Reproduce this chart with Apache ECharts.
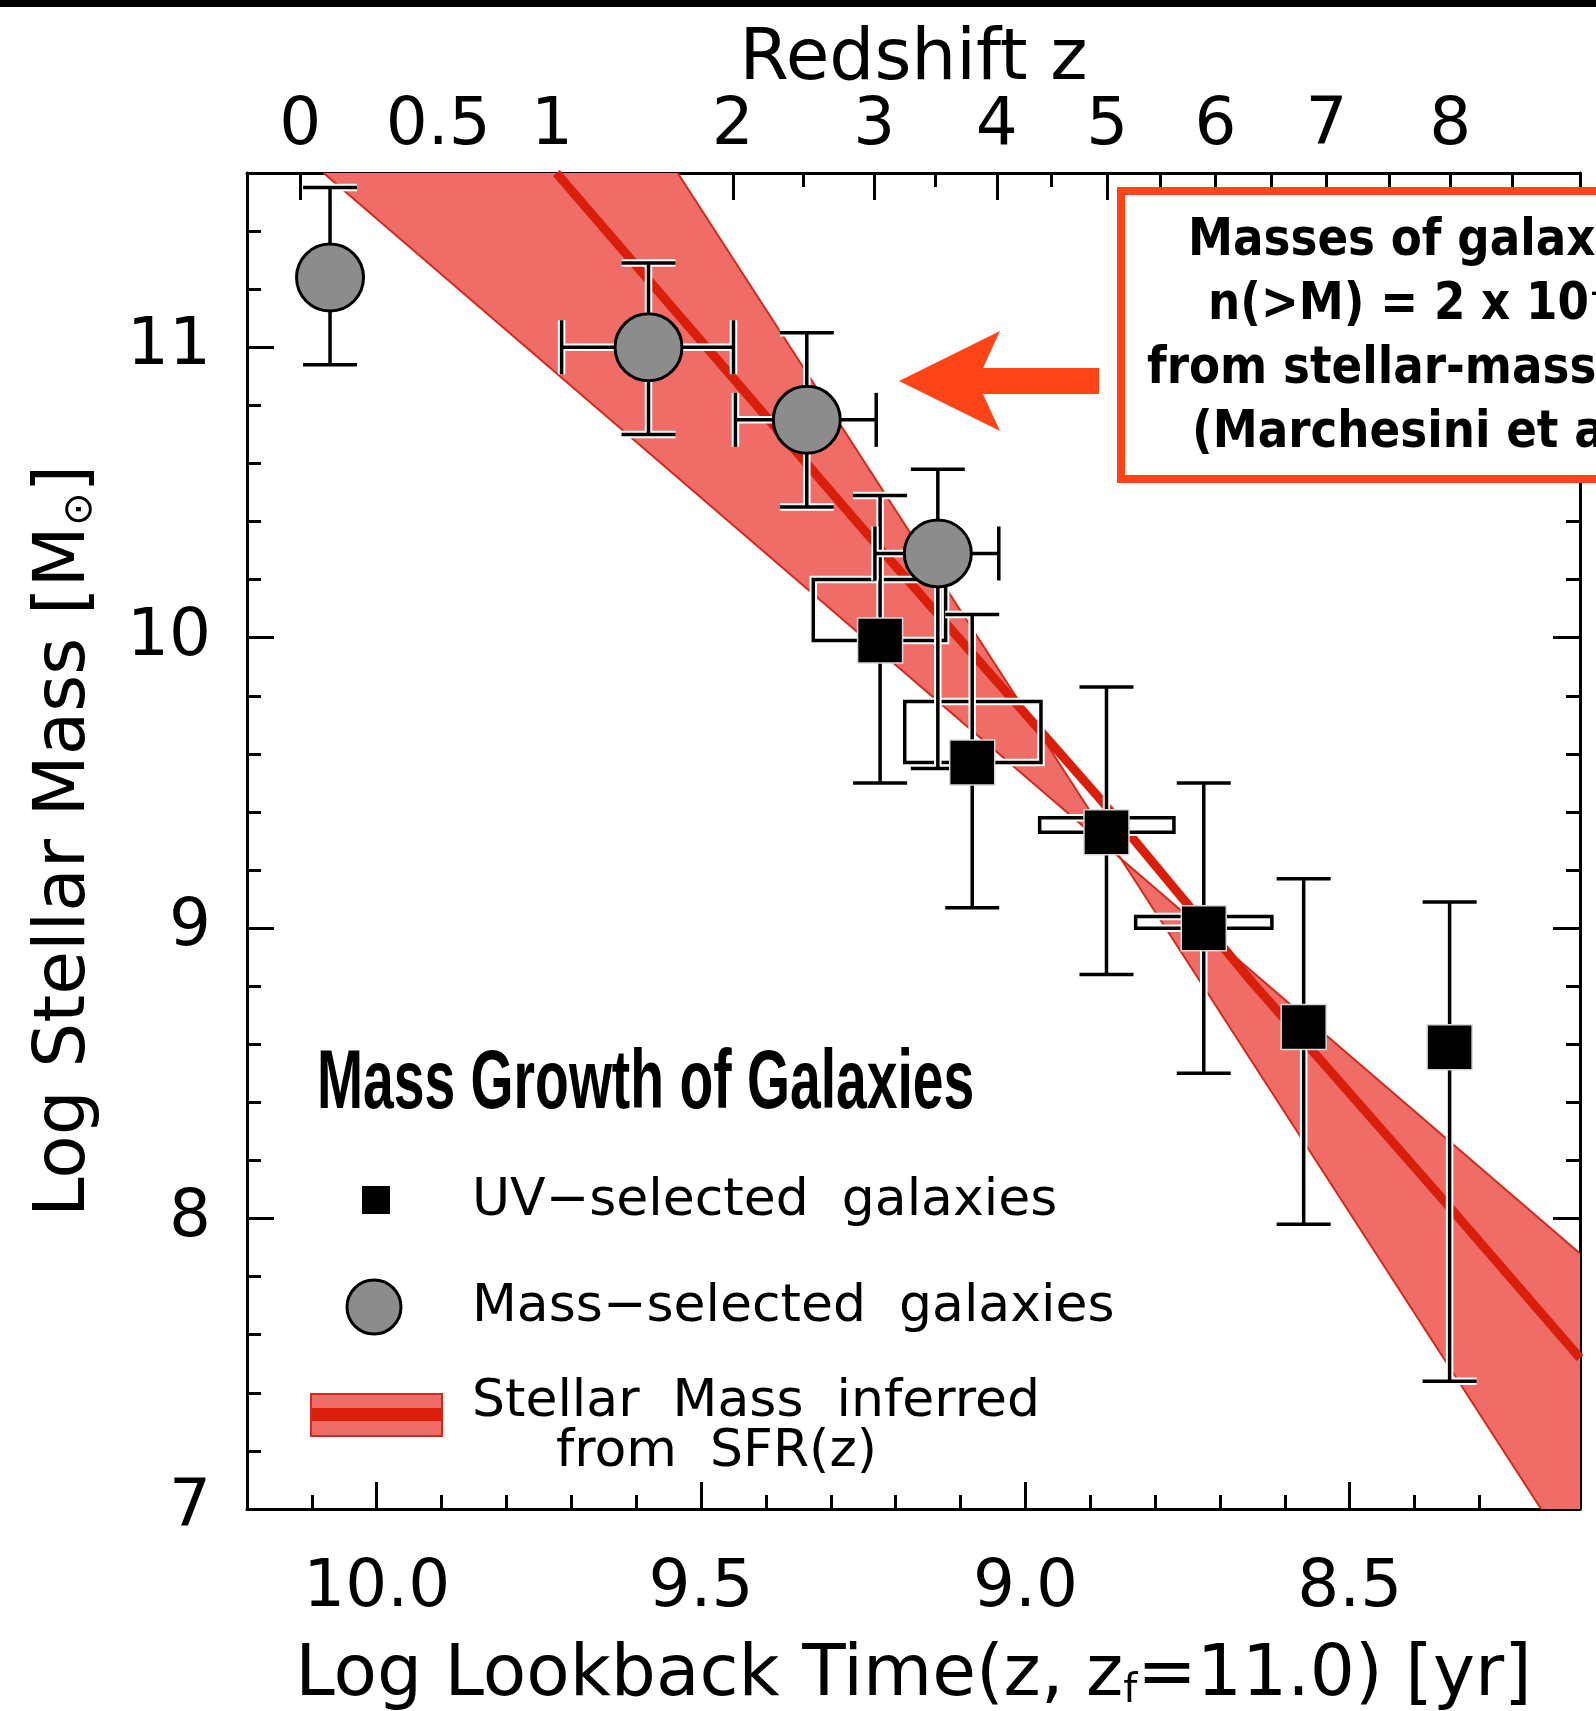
<!DOCTYPE html>
<html>
<head>
<meta charset="utf-8">
<title>Mass Growth of Galaxies</title>
<script src="https://cdn.jsdelivr.net/npm/echarts@6/dist/echarts.min.js"></script>
<style>
  html, body { margin: 0; padding: 0; background: #ffffff; }
  #chart { width: 1596px; height: 1711px; }
</style>
</head>
<body>
<div id="chart"></div>
<script>
// ---------------- axis ticks ----------------
const lookbackTicks = [10.0, 9.5, 9.0, 8.5];
const lookbackMinorTicks = [10.1, 9.9, 9.8, 9.7, 9.6, 9.4, 9.3, 9.2, 9.1, 8.9, 8.8, 8.7, 8.6, 8.4, 8.3, 8.2];
const massTicks = [7, 8, 9, 10, 11];
const massMinorTicks = [7.2, 7.4, 7.6, 7.8, 8.2, 8.4, 8.6, 8.8, 9.2, 9.4, 9.6, 9.8, 10.2, 10.4, 10.6, 10.8, 11.2, 11.4];
// redshift scale on the top axis, placed at the matching log lookback time
const redshiftLabels = ['0', '0.5', '1', '2', '3', '4', '5', '6', '7', '8'];
const redshiftTickLogT = [10.118, 9.905, 9.730, 9.451, 9.233, 9.044, 8.874, 8.707, 8.536, 8.345];
const redshiftMinorLogT = [10.013, 9.818, 9.591, 9.343, 9.139, 8.960, 8.792, 8.621, 8.439, 8.250];

// ---------------- mass-selected galaxies (circles) ----------------
const massSelLogT   = [10.072, 9.581, 9.337, 9.135];
const massSelMass   = [11.24, 11.00, 10.75, 10.29];
const massSelLow    = [10.94, 10.70, 10.45, 9.55];
const massSelHigh   = [11.55, 11.29, 11.05, 10.58];
const massSelTLeft  = [null, 9.715, 9.447, 9.232];
const massSelTRight = [null, 9.450, 9.230, 9.041];

// ---------------- UV-selected galaxies (squares) ----------------
const uvLogT  = [9.224, 9.082, 8.875, 8.725, 8.571, 8.346];
const uvMass  = [9.99, 9.57, 9.33, 9.00, 8.66, 8.59];
const uvLow   = [9.50, 9.07, 8.84, 8.50, 7.98, 7.44];
const uvHigh  = [10.49, 10.08, 9.83, 9.50, 9.17, 9.09];
// systematic-range boxes around the first four UV points
const uvBoxTLeft  = [9.327, 9.186, 8.978, 8.830];
const uvBoxTRight = [9.123, 8.976, 8.771, 8.620];
const uvBoxBottom = [9.99, 9.57, 9.33, 9.00];
const uvBoxTop    = [10.20, 9.78, 9.38, 9.04];

// ---------------- stellar mass inferred from SFR(z) ----------------
const edgeShallowLogT = [10.082, 8.145];
const edgeShallowMass = [11.60, 7.88];
const edgeSteepLogT   = [9.536, 8.205];
const edgeSteepMass   = [11.60, 7.00];
const bestLogT = [9.723, 9.241, 8.881, 8.655, 8.358, 8.145];
const bestMass = [11.60, 10.35, 9.435, 8.826, 8.07, 7.52];

// ---------------- styling ----------------
const X_MIN = 8.145, X_MAX = 10.2, Y_MIN = 7, Y_MAX = 11.6;
const FONT = 'DejaVu Sans';
const INK = '#000000';
const BAND_FILL = '#f06c66';
const BAND_EDGE = '#d22a1e';
const BAND_BEST = '#d91f0b';
const NOTE_RED = '#ff4517';
const CAP = 27;

const frameLine = { show: true, onZero: false, lineStyle: { color: INK, width: 3 } };
const majorTick = (vals) => ({ show: true, inside: true, length: 27, customValues: vals, lineStyle: { color: INK, width: 3 } });
const minorTick = (vals) => ({ show: true, inside: true, length: 14, customValues: vals, lineStyle: { color: INK, width: 3 } });
const labelStyle = { fontFamily: FONT, fontSize: 66, color: INK };
const nameStyle = {
  fontFamily: FONT, fontSize: 71, color: INK,
  rich: { sub: { fontFamily: FONT, fontSize: 40, color: INK, verticalAlign: 'bottom', lineHeight: 40 } }
};

function nearestIndex(arr, v) {
  let best = 0;
  arr.forEach((a, i) => { if (Math.abs(a - v) < Math.abs(arr[best] - v)) best = i; });
  return best;
}

function xAxisBase(position) {
  return { type: 'value', position, min: X_MIN, max: X_MAX, inverse: true, splitLine: { show: false } };
}
function yAxisBase(position) {
  return { type: 'value', position, min: Y_MIN, max: Y_MAX, splitLine: { show: false } };
}

// ---------------- custom renderers ----------------
function segmentsToGroup(segs) {
  const halo = segs.map(s => ({ type: 'line', shape: { x1: s[0], y1: s[1], x2: s[2], y2: s[3] },
    style: { stroke: '#ffffff', lineWidth: 7.5 } }));
  const ink = segs.map(s => ({ type: 'line', shape: { x1: s[0], y1: s[1], x2: s[2], y2: s[3] },
    style: { stroke: INK, lineWidth: 3.5 } }));
  return { type: 'group', children: halo.concat(ink) };
}

function renderErrorBars(params, api) {
  const t = api.value(0), m = api.value(1), lo = api.value(2), hi = api.value(3);
  const tl = api.value(4), tr = api.value(5);
  const a = api.coord([t, lo]), b = api.coord([t, hi]);
  const segs = [
    [a[0], a[1], b[0], b[1]],
    [a[0] - CAP, a[1], a[0] + CAP, a[1]],
    [b[0] - CAP, b[1], b[0] + CAP, b[1]]
  ];
  if (isFinite(tl) && isFinite(tr)) {
    const c = api.coord([tl, m]), d = api.coord([tr, m]);
    segs.push([c[0], c[1], d[0], d[1]]);
    segs.push([c[0], c[1] - CAP, c[0], c[1] + CAP]);
    segs.push([d[0], d[1] - CAP, d[0], d[1] + CAP]);
  }
  return segmentsToGroup(segs);
}

function renderBoxes(params, api) {
  const p1 = api.coord([api.value(0), api.value(3)]);
  const p2 = api.coord([api.value(1), api.value(2)]);
  const shape = { x: p1[0], y: p1[1], width: p2[0] - p1[0], height: p2[1] - p1[1] };
  return {
    type: 'group',
    children: [
      { type: 'rect', shape, style: { fill: 'none', stroke: '#ffffff', lineWidth: 7.5 } },
      { type: 'rect', shape, style: { fill: 'none', stroke: INK, lineWidth: 3.5 } }
    ]
  };
}

function renderBand(params, api) {
  if (params.dataIndex !== 0) return null;
  const pts = [];
  edgeShallowLogT.forEach((t, i) => pts.push(api.coord([t, edgeShallowMass[i]])));
  pts.push(api.coord([X_MIN, Y_MIN]));
  for (let i = edgeSteepLogT.length - 1; i >= 0; i--) pts.push(api.coord([edgeSteepLogT[i], edgeSteepMass[i]]));
  return { type: 'polygon', shape: { points: pts }, style: { fill: BAND_FILL } };
}

const pairs = (xs, ys) => xs.map((x, i) => [x, ys[i]]);

// ---------------- chart ----------------
const chart = echarts.init(document.getElementById('chart'), null, { renderer: 'canvas', width: 1596, height: 1711 });

const noteText = (text, x, y) => ({
  type: 'text', z: 111, x, y, scaleX: 0.87,
  style: { text, fontFamily: FONT, fontWeight: 'bold', fontSize: 52, fill: INK, verticalAlign: 'middle' }
});
const legendText = (text, x, y) => ({
  type: 'text', z: 100, x, y,
  style: { text, fontFamily: FONT, fontSize: 52, fill: INK, verticalAlign: 'middle' }
});

const option = {
  backgroundColor: '#ffffff',
  animation: false,
  grid: { left: 247, top: 173, width: 1333, height: 1336, outerBoundsMode: 'none', containLabel: false },
  xAxis: [
    Object.assign(xAxisBase('bottom'), {
      axisLine: frameLine,
      axisTick: majorTick(lookbackTicks),
      axisLabel: Object.assign({ customValues: lookbackTicks, formatter: v => v.toFixed(1), margin: 47 }, labelStyle),
      name: 'Log Lookback Time(z, z{sub|f}=11.0) [yr]',
      nameLocation: 'middle', nameGap: 132, nameTextStyle: nameStyle
    }),
    Object.assign(xAxisBase('bottom'), {
      axisLine: { show: false }, axisTick: minorTick(lookbackMinorTicks), axisLabel: { show: false }
    }),
    Object.assign(xAxisBase('top'), {
      axisLine: frameLine,
      axisTick: majorTick(redshiftTickLogT),
      axisLabel: Object.assign({
        customValues: redshiftTickLogT,
        formatter: v => redshiftLabels[nearestIndex(redshiftTickLogT, v)],
        margin: 13
      }, labelStyle),
      name: 'Redshift z',
      nameLocation: 'middle', nameGap: 77, nameMoveOverlap: false, nameTextStyle: nameStyle
    }),
    Object.assign(xAxisBase('top'), {
      axisLine: { show: false }, axisTick: minorTick(redshiftMinorLogT), axisLabel: { show: false }
    })
  ],
  yAxis: [
    Object.assign(yAxisBase('left'), {
      axisLine: frameLine,
      axisTick: majorTick(massTicks),
      axisLabel: Object.assign({ customValues: massTicks, formatter: v => String(Math.round(v)), margin: 36 }, labelStyle),
      name: 'Log Stellar Mass [M{sub|⊙}]',
      nameLocation: 'middle', nameGap: 146, nameRotate: 90, nameTextStyle: nameStyle
    }),
    Object.assign(yAxisBase('left'), {
      axisLine: { show: false }, axisTick: minorTick(massMinorTicks), axisLabel: { show: false }
    }),
    Object.assign(yAxisBase('right'), {
      axisLine: frameLine, axisTick: majorTick(massTicks), axisLabel: { show: false }
    }),
    Object.assign(yAxisBase('right'), {
      axisLine: { show: false }, axisTick: minorTick(massMinorTicks), axisLabel: { show: false }
    })
  ],
  series: [
    {
      name: 'Stellar Mass inferred from SFR(z)', type: 'custom', z: 1,
      renderItem: renderBand, data: [[edgeShallowLogT[0], edgeShallowMass[0]]],
      encode: { x: 0, y: 1 }, silent: true
    },
    {
      type: 'line', z: 2, data: pairs(edgeShallowLogT, edgeShallowMass), symbol: 'none',
      lineStyle: { color: BAND_EDGE, width: 2 }, silent: true
    },
    {
      type: 'line', z: 2, data: pairs(edgeSteepLogT, edgeSteepMass), symbol: 'none',
      lineStyle: { color: BAND_EDGE, width: 2 }, silent: true
    },
    {
      type: 'line', z: 3, data: pairs(bestLogT, bestMass), symbol: 'none',
      lineStyle: { color: BAND_BEST, width: 9 }, silent: true
    },
    {
      type: 'custom', z: 4, renderItem: renderBoxes,
      data: uvBoxTLeft.map((t, i) => [t, uvBoxTRight[i], uvBoxBottom[i], uvBoxTop[i]]),
      encode: { x: [0, 1], y: [2, 3] }, silent: true
    },
    {
      type: 'custom', z: 5, renderItem: renderErrorBars,
      data: uvLogT.map((t, i) => [t, uvMass[i], uvLow[i], uvHigh[i], null, null]),
      encode: { x: 0, y: [1, 2, 3] }, silent: true
    },
    {
      type: 'custom', z: 5, renderItem: renderErrorBars,
      data: massSelLogT.map((t, i) => [t, massSelMass[i], massSelLow[i], massSelHigh[i], massSelTLeft[i], massSelTRight[i]]),
      encode: { x: 0, y: [1, 2, 3] }, silent: true
    },
    {
      name: 'UV-selected galaxies', type: 'scatter', z: 6, symbol: 'rect', symbolSize: 45,
      data: pairs(uvLogT, uvMass),
      itemStyle: { color: INK, borderColor: '#d8d8d8', borderWidth: 1.5, opacity: 1 }, silent: true
    },
    {
      name: 'Mass-selected galaxies', type: 'scatter', z: 7, symbol: 'circle', symbolSize: 67,
      data: pairs(massSelLogT, massSelMass),
      itemStyle: { color: '#8c8c8c', borderColor: INK, borderWidth: 3, opacity: 1 }, silent: true
    }
  ],
  graphic: [
    // black strip along the top edge
    { type: 'rect', z: 100, shape: { x: 0, y: 0, width: 1596, height: 7 }, style: { fill: '#000000' } },

    // legend block
    { type: 'text', z: 100, x: 317, y: 1085, scaleX: 0.658,
      style: { text: 'Mass Growth of Galaxies', fontFamily: 'Liberation Sans', fontWeight: 'bold', fontSize: 84, fill: INK, verticalAlign: 'middle', align: 'left' } },
    { type: 'rect', z: 100, shape: { x: 362, y: 1186, width: 28, height: 28 }, style: { fill: INK } },
    legendText('UV\u2212selected  galaxies', 472, 1201),
    { type: 'circle', z: 100, shape: { cx: 374, cy: 1307, r: 27 }, style: { fill: '#8c8c8c', stroke: INK, lineWidth: 3 } },
    legendText('Mass\u2212selected  galaxies', 472, 1307),
    { type: 'rect', z: 100, shape: { x: 311, y: 1394, width: 131, height: 42 }, style: { fill: BAND_FILL, stroke: BAND_EDGE, lineWidth: 2 } },
    { type: 'rect', z: 101, shape: { x: 312, y: 1408, width: 129, height: 13 }, style: { fill: BAND_BEST } },
    legendText('Stellar  Mass  inferred', 472, 1402),
    legendText('from  SFR(z)', 556, 1452),

    // annotation box and arrow
    { type: 'rect', z: 110, shape: { x: 1121, y: 191, width: 600, height: 288 },
      style: { fill: '#ffffff', stroke: NOTE_RED, lineWidth: 8 } },
    noteText('Masses of galaxies with', 1188, 241),
    noteText('n(>M) = 2 x 10\u207B\u2074 Mpc\u207B\u00B3', 1208, 305),
    noteText('from stellar-mass functions', 1147, 369),
    noteText('(Marchesini et al. 2009)', 1192, 433),
    { type: 'polygon', z: 110,
      shape: { points: [[899, 381], [1000, 331], [983, 368], [1099, 368], [1099, 394], [983, 394], [1000, 431]] },
      style: { fill: NOTE_RED } }
  ]
};

chart.setOption(option);
</script>
</body>
</html>
